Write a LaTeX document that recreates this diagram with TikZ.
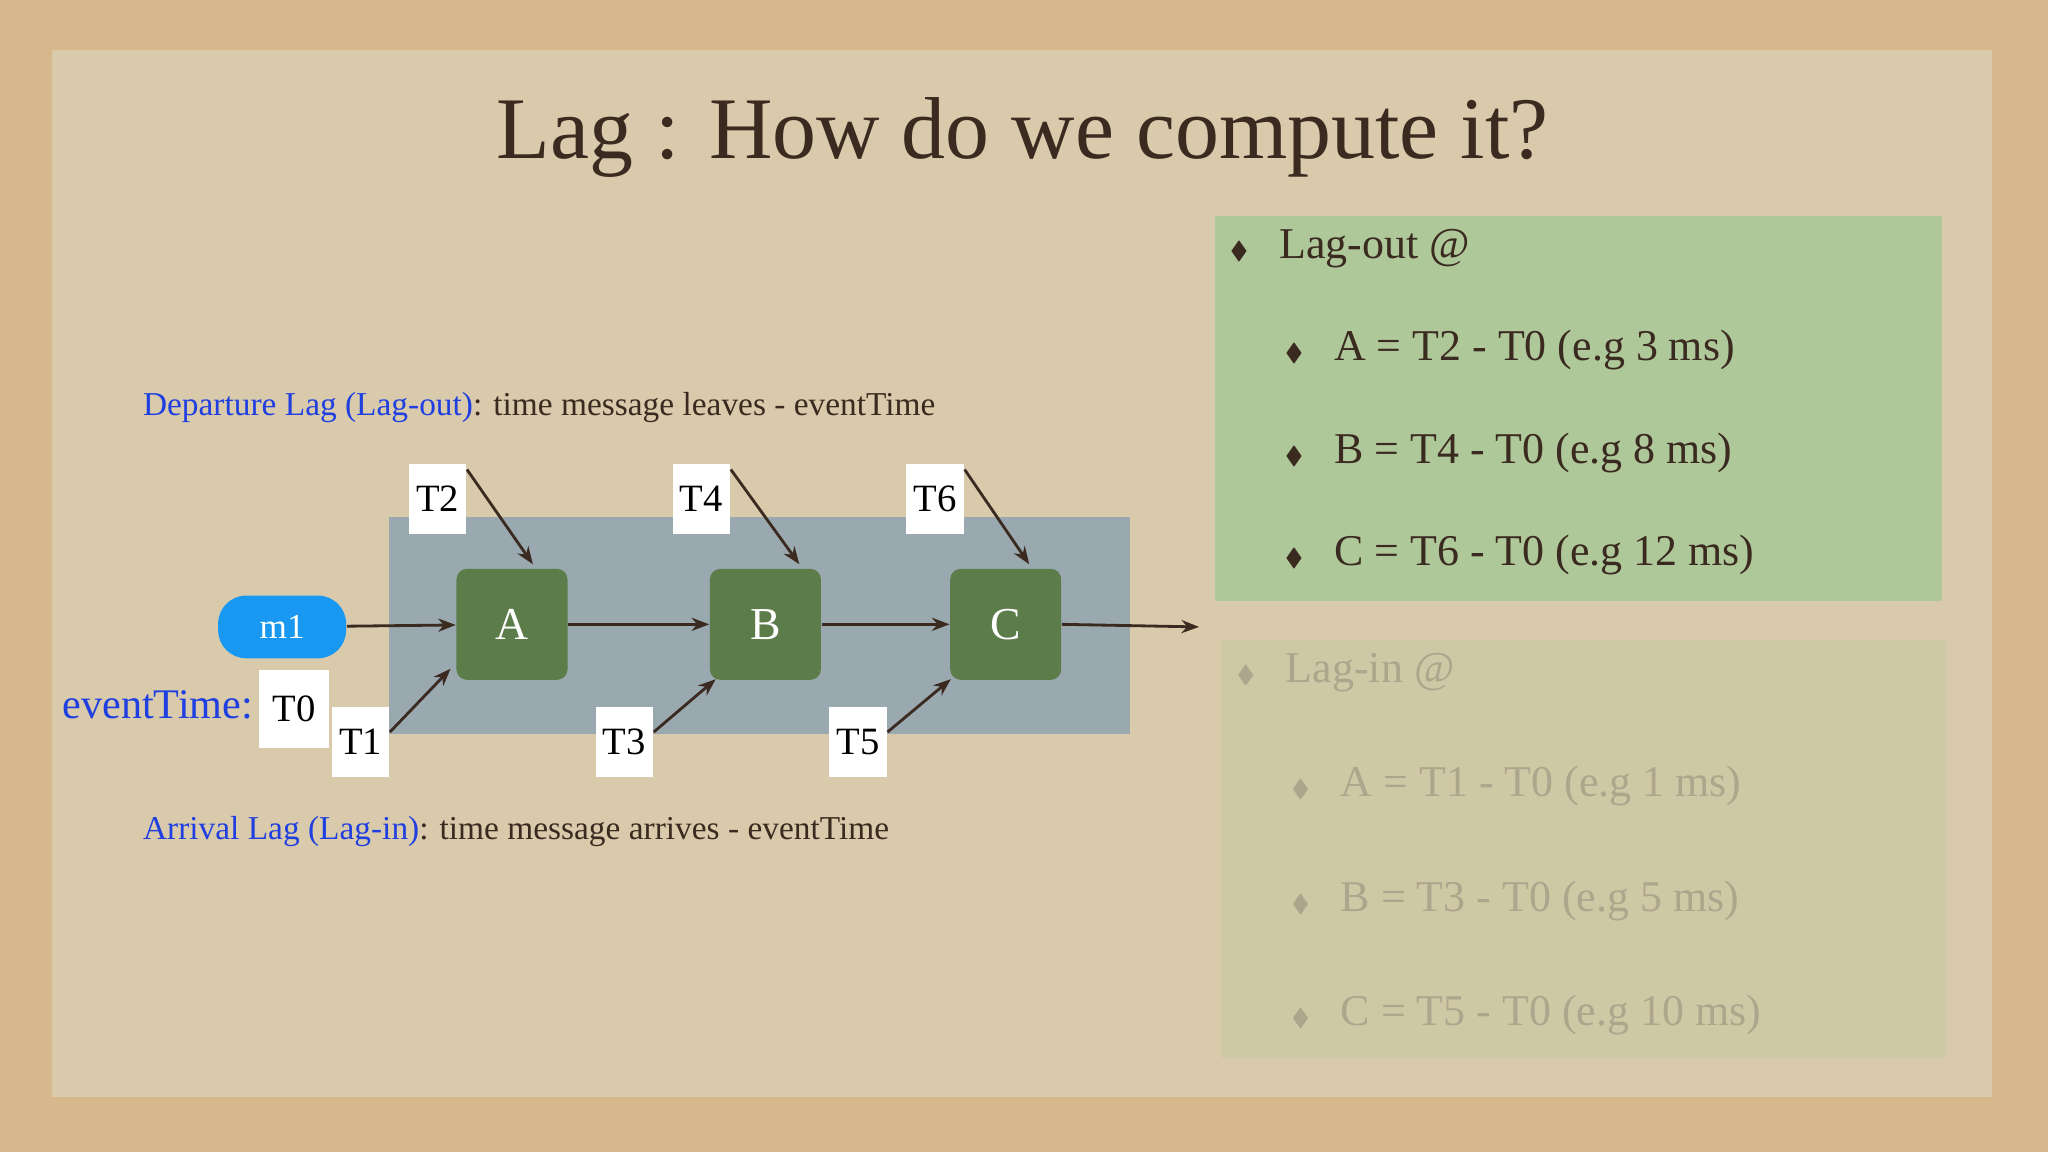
\documentclass[tikz,border=0pt]{standalone}
\usepackage{amssymb}
\usepackage{fontspec}
\setmainfont{Liberation Serif}
\usetikzlibrary{arrows.meta}
\definecolor{outer}{HTML}{D6B88C}
\definecolor{paper}{HTML}{D9CAAC}
\definecolor{greenbox}{HTML}{AFC89A}
\definecolor{fadebox}{HTML}{CFC8A4}
\definecolor{fadetxt}{HTML}{ADA58C}
\definecolor{steel}{HTML}{9AA8B0}
\definecolor{nodegreen}{HTML}{5C7C4A}
\definecolor{mblue}{HTML}{1898F0}
\definecolor{ink}{HTML}{3A2A20}
\definecolor{lblue}{HTML}{1F3FE0}
\tikzset{
  proc/.style={draw=none, fill=nodegreen, rounded corners=3pt, minimum width=85*0.01306cm, minimum height=85*0.01306cm, text=white, font=\fontsize{13}{15}\selectfont},
  tlab/.style={fill=white, minimum width=44*0.01306cm, minimum height=54*0.01306cm, inner sep=0pt, font=\fontsize{11}{13}\selectfont, text=black},
  arr/.style={-{Stealth[length=5pt]}, ink, line width=0.8pt},
  bul/.style={anchor=west, font=\fontsize{12.5}{15}\selectfont, text=ink},
  fbul/.style={anchor=west, font=\fontsize{12.5}{15}\selectfont, text=fadetxt},
}
\newcommand{\bl}{{\scriptsize$\blacklozenge$}\hspace{0.7em}}
\begin{document}
\begin{tikzpicture}[x=0.01306cm,y=-0.01306cm]
\fill[outer] (0,0) rectangle (1568,882);
\useasboundingbox (0,0) rectangle (1568,882);
\fill[paper] (40,38) rectangle (1525,840);
\node[text=ink, font=\fontsize{25}{30}\selectfont] (title) at (783,105) {Lag : How do we compute it?};
% green box
\fill[greenbox] (930,165) rectangle (1487,460);
\node[bul] (lo) at (932,190) {\bl Lag-out @};
\node[bul] (lo1) at (974,268) {\bl A = T2 - T0 (e.g 3 ms)};
\node[bul] (lo2) at (974,347) {\bl B = T4 - T0 (e.g 8 ms)};
\node[bul] (lo3) at (974,425) {\bl C = T6 - T0 (e.g 12 ms)};
% faded box
\fill[fadebox] (935,490) rectangle (1490,810);
\node[fbul] (li) at (937,515) {\bl Lag-in @};
\node[fbul] (li1) at (979,602) {\bl A = T1 - T0 (e.g 1 ms)};
\node[fbul] (li2) at (979,690) {\bl B = T3 - T0 (e.g 5 ms)};
\node[fbul] (li3) at (979,777) {\bl C = T5 - T0 (e.g 10 ms)};
% texts
\node[anchor=west, font=\fontsize{9.5}{12}\selectfont] (dep) at (100,312) {\textcolor{lblue}{Departure Lag (Lag-out)}\textcolor{ink}{ : time message leaves - eventTime}};
\node[anchor=west, font=\fontsize{9.5}{12}\selectfont] (arrl) at (100,637) {\textcolor{lblue}{Arrival Lag (Lag-in)}\textcolor{ink}{ : time message arrives - eventTime}};
% steel rect
\fill[steel] (298,396) rectangle (865,562);
\node[proc] (A) at (392,478) {A};
\node[proc] (B) at (586,478) {B};
\node[proc] (C) at (770,478) {C};
\node[rectangle, rounded corners=8pt, fill=mblue, minimum width=98*0.01306cm, minimum height=48*0.01306cm, text=white, font=\fontsize{10}{12}\selectfont] (m1) at (216,480) {m1};
\coordinate (out) at (918,480);
\draw[arr] (m1) -- (A);
\draw[arr] (A) -- (B);
\draw[arr] (B) -- (C);
\draw[arr] (C.east) -- (out);
\node[tlab] (T2) at (335,382) {T2};
\node[tlab] (T4) at (537,382) {T4};
\node[tlab] (T6) at (716,382) {T6};
\node[tlab, minimum width=54*0.01306cm, minimum height=60*0.01306cm] (T0) at (225,543) {T0};
\node[tlab] (T1) at (276,568) {T1};
\node[tlab] (T3) at (478,568) {T3};
\node[tlab] (T5) at (657,568) {T5};
\node[anchor=east, text=lblue, font=\fontsize{12}{14}\selectfont, inner sep=1pt] (et) at (197,540) {eventTime:};
\draw[arr] (T2.north east) ++(0,5) -- (408,432);
\draw[arr] (T4.north east) ++(0,5) -- (612,432);
\draw[arr] (T6.north east) ++(0,5) -- (788,432);
\draw[arr] (T1.north east) ++(0,20) -- (345,512);
\draw[arr] (T3.north east) ++(0,20) -- (548,520);
\draw[arr] (T5.north east) ++(0,20) -- (728,520);
\end{tikzpicture}
\end{document}
